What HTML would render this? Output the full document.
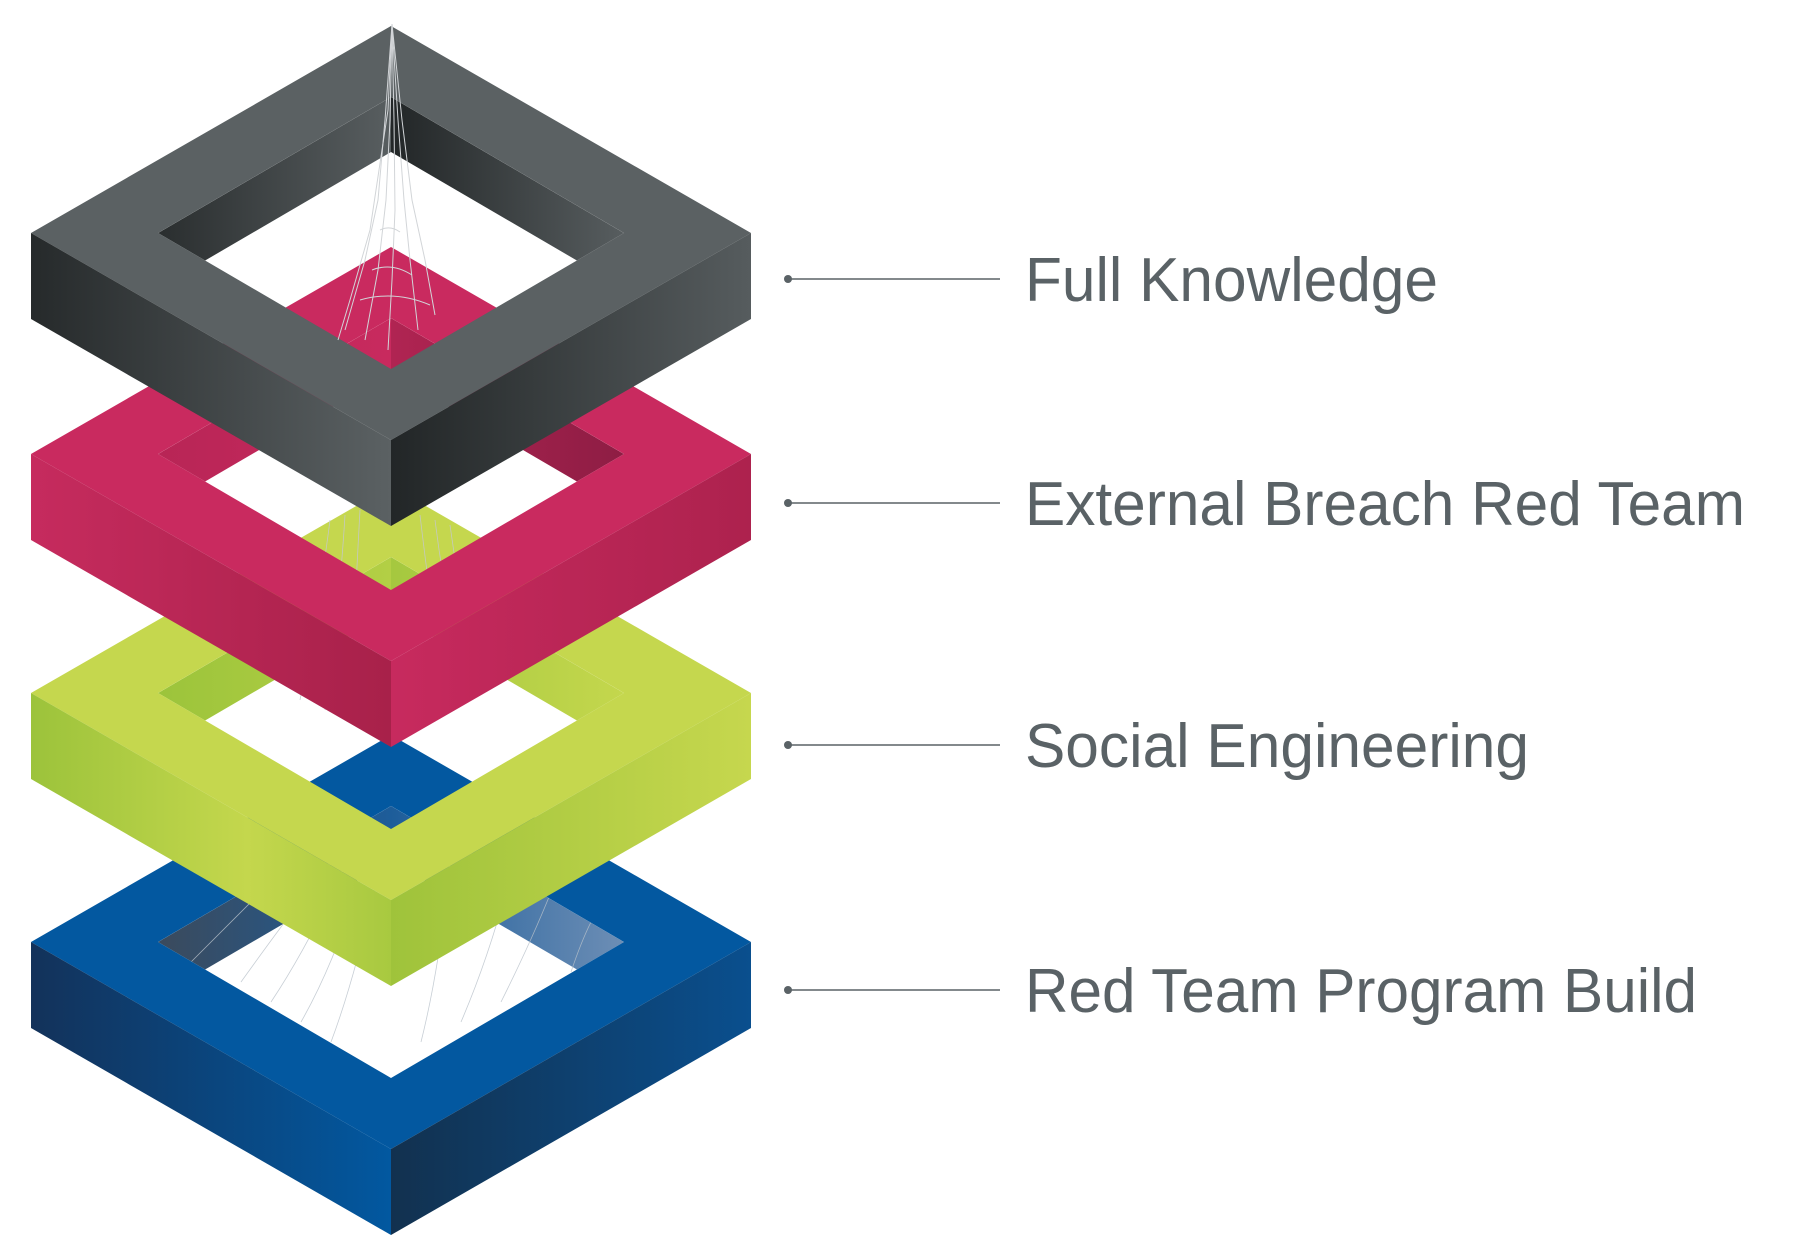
<!DOCTYPE html>
<html><head><meta charset="utf-8"><style>
html,body{margin:0;padding:0;background:#fff}
svg{display:block}
</style></head><body>
<svg width="1800" height="1239" viewBox="0 0 1800 1239" xmlns="http://www.w3.org/2000/svg">
<defs>
<clipPath id="hole"><path d="M0,-136 L233,0 L0,136 L-233,0Z"/></clipPath>
<!-- gray -->
<linearGradient id="gL" gradientUnits="userSpaceOnUse" x1="-360" y1="0" x2="0" y2="0"><stop offset="0" stop-color="#262a2b"/><stop offset="1" stop-color="#5b6163"/></linearGradient>
<linearGradient id="gR" gradientUnits="userSpaceOnUse" x1="0" y1="0" x2="360" y2="0"><stop offset="0" stop-color="#222627"/><stop offset="1" stop-color="#565c5e"/></linearGradient>
<linearGradient id="gIL" gradientUnits="userSpaceOnUse" x1="-233" y1="0" x2="0" y2="0"><stop offset="0" stop-color="#2a2e2f"/><stop offset="1" stop-color="#585e60"/></linearGradient>
<linearGradient id="gIR" gradientUnits="userSpaceOnUse" x1="0" y1="0" x2="233" y2="0"><stop offset="0" stop-color="#222627"/><stop offset="1" stop-color="#575d5f"/></linearGradient>
<!-- pink -->
<linearGradient id="pL" gradientUnits="userSpaceOnUse" x1="-360" y1="0" x2="0" y2="0"><stop offset="0" stop-color="#c62b5e"/><stop offset="1" stop-color="#a8214a"/></linearGradient>
<linearGradient id="pR" gradientUnits="userSpaceOnUse" x1="0" y1="0" x2="360" y2="0"><stop offset="0" stop-color="#c72a5e"/><stop offset="1" stop-color="#ad224e"/></linearGradient>
<linearGradient id="pIL" gradientUnits="userSpaceOnUse" x1="-233" y1="0" x2="0" y2="0"><stop offset="0" stop-color="#b82556"/><stop offset="1" stop-color="#c82a5e"/></linearGradient>
<linearGradient id="pIR" gradientUnits="userSpaceOnUse" x1="0" y1="0" x2="233" y2="0"><stop offset="0" stop-color="#b02452"/><stop offset="1" stop-color="#8e1d44"/></linearGradient>
<!-- green -->
<linearGradient id="nL" gradientUnits="userSpaceOnUse" x1="-360" y1="0" x2="0" y2="0"><stop offset="0" stop-color="#9cc33b"/><stop offset="0.6" stop-color="#c4d74d"/><stop offset="1" stop-color="#a8c940"/></linearGradient>
<linearGradient id="nR" gradientUnits="userSpaceOnUse" x1="0" y1="0" x2="360" y2="0"><stop offset="0" stop-color="#9fc33b"/><stop offset="1" stop-color="#c6d74e"/></linearGradient>
<linearGradient id="nIL" gradientUnits="userSpaceOnUse" x1="-233" y1="0" x2="0" y2="0"><stop offset="0" stop-color="#9cc43b"/><stop offset="1" stop-color="#b3cf45"/></linearGradient>
<linearGradient id="nIR" gradientUnits="userSpaceOnUse" x1="0" y1="0" x2="233" y2="0"><stop offset="0" stop-color="#a5c83f"/><stop offset="1" stop-color="#c4d74d"/></linearGradient>
<!-- blue -->
<linearGradient id="bL" gradientUnits="userSpaceOnUse" x1="-360" y1="0" x2="0" y2="0"><stop offset="0" stop-color="#13325a"/><stop offset="1" stop-color="#0258a0"/></linearGradient>
<linearGradient id="bR" gradientUnits="userSpaceOnUse" x1="0" y1="0" x2="360" y2="0"><stop offset="0" stop-color="#12314f"/><stop offset="1" stop-color="#0a4f8e"/></linearGradient>
<linearGradient id="bIL" gradientUnits="userSpaceOnUse" x1="-233" y1="0" x2="0" y2="0"><stop offset="0" stop-color="#3b4a5c"/><stop offset="1" stop-color="#1d5d9a"/></linearGradient>
<linearGradient id="bIR" gradientUnits="userSpaceOnUse" x1="0" y1="0" x2="233" y2="0"><stop offset="0" stop-color="#1d5d9a"/><stop offset="1" stop-color="#6d8eb5"/></linearGradient>
</defs>

<!-- BLUE -->
<g transform="translate(391,942)">
<g clip-path="url(#hole)">
<path d="M-233,0 L0,-136 L0,-81 L-233,55Z" fill="url(#bIL)"/>
<path d="M0,-136 L233,0 L233,55 L0,-81Z" fill="url(#bIR)"/>
<g stroke="#b9c2cb" stroke-width="0.8" fill="none" opacity="0.8">
<path d="M-150,40 Q-100,-30 -60,-80 M-120,60 Q-80,0 -40,-90 M-90,80 Q-50,10 -20,-100 M-60,100 Q-30,20 -5,-110 M30,100 Q50,20 60,-90 M70,80 Q100,10 120,-70 M110,60 Q140,0 160,-50 M-200,20 Q-160,-20 -120,-60 M180,30 Q190,0 200,-20"/>
</g>
</g>
<path d="M0,-207 L360,0 L0,207 L-360,0Z M0,-136 L-233,0 L0,136 L233,0Z" fill="#0358a0" fill-rule="evenodd"/>
<path d="M-360,0 L0,207 L0,293 L-360,86Z" fill="url(#bL)"/>
<path d="M0,207 L360,0 L360,86 L0,293Z" fill="url(#bR)"/>
</g>

<!-- GREEN -->
<g transform="translate(391,693)">
<g clip-path="url(#hole)">
<path d="M-233,0 L0,-136 L0,-81 L-233,55Z" fill="url(#nIL)"/>
<path d="M0,-136 L233,0 L233,55 L0,-81Z" fill="url(#nIR)"/>
</g>
<path d="M0,-207 L360,0 L0,207 L-360,0Z M0,-136 L-233,0 L0,136 L233,0Z" fill="#c5d74e" fill-rule="evenodd"/>
<path d="M-360,0 L0,207 L0,293 L-360,86Z" fill="url(#nL)"/>
<path d="M0,207 L360,0 L360,86 L0,293Z" fill="url(#nR)"/>
</g>

<!-- mesh between pink and green -->
<g stroke="#c4c8cc" stroke-width="0.8" fill="none" opacity="0.9">
<path d="M330,520 Q320,600 300,700 M345,515 Q340,600 325,710 M360,510 Q355,600 350,720 M420,515 Q430,600 445,700 M435,520 Q445,600 465,690 M450,525 Q460,600 480,680"/>
</g>

<!-- PINK -->
<g transform="translate(391,454)">
<g clip-path="url(#hole)">
<path d="M-233,0 L0,-136 L0,-81 L-233,55Z" fill="url(#pIL)"/>
<path d="M0,-136 L233,0 L233,55 L0,-81Z" fill="url(#pIR)"/>
</g>
<path d="M0,-207 L360,0 L0,207 L-360,0Z M0,-136 L-233,0 L0,136 L233,0Z" fill="#c92a5f" fill-rule="evenodd"/>
<path d="M-360,0 L0,207 L0,293 L-360,86Z" fill="url(#pL)"/>
<path d="M0,207 L360,0 L360,86 L0,293Z" fill="url(#pR)"/>
</g>

<!-- GRAY -->
<g transform="translate(391,233)">
<g clip-path="url(#hole)">
<path d="M-233,0 L0,-136 L0,-81 L-233,55Z" fill="url(#gIL)"/>
<path d="M0,-136 L233,0 L233,55 L0,-81Z" fill="url(#gIR)"/>
</g>
<path d="M0,-207 L360,0 L0,207 L-360,0Z M0,-136 L-233,0 L0,136 L233,0Z" fill="#5b6163" fill-rule="evenodd"/>
<path d="M-360,0 L0,207 L0,293 L-360,86Z" fill="url(#gL)"/>
<path d="M0,207 L360,0 L360,86 L0,293Z" fill="url(#gR)"/>
</g>

<!-- spike mesh -->
<g stroke="#d2d5d8" stroke-width="1" fill="none">
<path d="M392,24 L385,120 L378,200 L365,260 L345,330"/>
<path d="M392,24 L390,120 L386,200 L378,270 L365,340"/>
<path d="M392,24 L394,120 L395,210 L392,280 L388,350"/>
<path d="M392,24 L398,120 L404,200 L410,260 L418,330"/>
<path d="M392,24 L402,120 L412,200 L425,260 L435,315"/>
<path d="M392,24 L388,110 L370,230 L350,300 L338,340"/>
<path d="M380,230 Q390,225 400,232 M372,270 Q392,262 412,275 M360,300 Q395,290 430,305"/>
</g>

<!-- labels -->
<g fill="#5a6266" stroke="#5a6266">
<circle cx="788" cy="279" r="4" stroke="none"/>
<line x1="788" y1="279" x2="1000" y2="279" stroke-width="1.5"/>
<circle cx="788" cy="503" r="4" stroke="none"/>
<line x1="788" y1="503" x2="1000" y2="503" stroke-width="1.5"/>
<circle cx="788" cy="745" r="4" stroke="none"/>
<line x1="788" y1="745" x2="1000" y2="745" stroke-width="1.5"/>
<circle cx="788" cy="990" r="4" stroke="none"/>
<line x1="788" y1="990" x2="1000" y2="990" stroke-width="1.5"/>
</g>
<g fill="#5a6266" font-family="'Liberation Sans', sans-serif" font-size="62">
<text x="1025" y="301" textLength="413" lengthAdjust="spacingAndGlyphs">Full Knowledge</text>
<text x="1025" y="525" textLength="720" lengthAdjust="spacingAndGlyphs">External Breach Red Team</text>
<text x="1025" y="767" textLength="504" lengthAdjust="spacingAndGlyphs">Social Engineering</text>
<text x="1025" y="1012" textLength="672" lengthAdjust="spacingAndGlyphs">Red Team Program Build</text>
</g>
</svg>
</body></html>
